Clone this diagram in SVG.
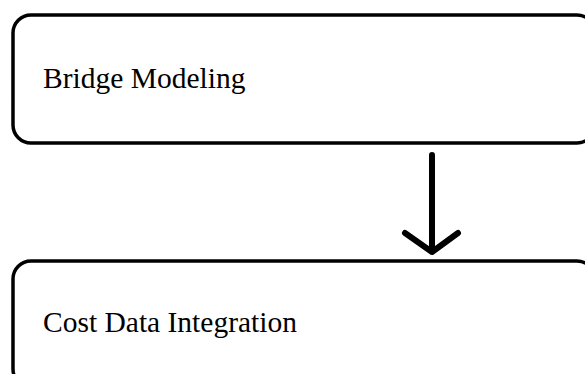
<svg xmlns="http://www.w3.org/2000/svg" width="585" height="374" viewBox="0 0 585 374">
<style>
.box{fill:#fff;stroke:#000;stroke-width:3.5}
.lbl{font-family:"Liberation Serif",serif;font-size:29.5px;fill:#000}
.conn{fill:none;stroke:#000;stroke-width:6;stroke-linecap:round;stroke-linejoin:round}
</style>
<rect width="585" height="374" fill="#fff"/>
<g id="node-bridge-modeling">
<rect class="box" x="13" y="15" width="582" height="128" rx="18"/>
<text class="lbl" x="43" y="88">Bridge Modeling</text>
</g>
<g id="node-cost-data-integration">
<rect class="box" x="13" y="261" width="582" height="126" rx="18"/>
<text class="lbl" x="43" y="332">Cost Data Integration</text>
</g>
<g id="connectors">
<path class="conn" d="M432 155V252M405 233L432 252L458 233"/>
</g>
</svg>
